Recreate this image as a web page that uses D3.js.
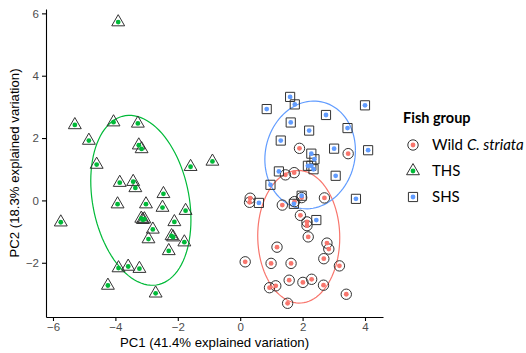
<!DOCTYPE html>
<html>
<head>
<meta charset="utf-8">
<script src="https://cdn.jsdelivr.net/npm/d3@7"></script>
<style>
  body { margin: 0; background: #fff; }
  svg { display: block; }
  .axis path, .axis line { stroke: #000; stroke-width: 1.1; }
  .axis text { fill: #4d4d4d; font-family: "Liberation Sans", Arial, sans-serif; font-size: 11.5px; }
  .title { font-family: "Liberation Sans", Arial, sans-serif; font-size: 13.2px; fill: #000; }
  .legend text { font-family: Lato, "Open Sans", sans-serif; fill: #000; }
</style>
</head>
<body>
<div id="chart"></div>
<script>
// Scores: [PC1, PC2]
const wildPoints = [
  [1.90, 1.67], [3.46, 1.50], [1.45, 0.82], [1.73, 0.89], [0.32, 0.07], [0.30, -0.06],
  [1.97, 0.09], [2.70, 0.08], [1.35, -0.15], [1.74, -0.04], [1.93, -0.48], [2.14, -0.69],
  [2.14, -0.81], [2.18, -1.17], [2.78, -1.37], [2.84, -1.56], [1.18, -1.50], [0.16, -1.97],
  [0.99, -2.02], [1.63, -2.02], [2.68, -1.87], [3.18, -2.10], [1.57, -2.56], [2.01, -2.63],
  [2.29, -2.53], [2.67, -2.72], [1.14, -2.74], [0.94, -2.80], [3.40, -3.01], [1.52, -3.30]
];
const thsPoints = [
  [-3.91, 5.72], [-5.30, 2.42], [-4.06, 2.51], [-3.28, 2.47], [-4.85, 1.92], [-3.25, 1.77],
  [-3.16, 1.65], [-4.60, 1.15], [-1.59, 1.08], [-0.89, 1.25], [-3.86, 0.57], [-3.43, 0.60],
  [-3.36, 0.40], [-2.46, 0.21], [-3.93, -0.12], [-3.02, -0.12], [-2.49, -0.23], [-1.75, -0.33],
  [-5.75, -0.70], [-3.17, -0.58], [-3.12, -0.62], [-3.07, -0.60], [-2.11, -0.69], [-2.80, -0.93],
  [-2.94, -1.24], [-2.20, -1.14], [-2.15, -1.18], [-1.79, -1.34], [-2.29, -1.62], [-3.90, -2.17],
  [-3.59, -2.12], [-3.23, -2.19], [-4.24, -2.73], [-2.71, -2.98]
];
const shsPoints = [
  [1.60, 3.32], [1.75, 3.08], [0.85, 2.93], [4.00, 3.05], [2.75, 2.74], [1.62, 2.50],
  [2.21, 2.24], [3.44, 2.32], [1.30, 1.92], [3.01, 1.66], [4.10, 1.61], [2.28, 1.50],
  [2.38, 1.32], [2.17, 1.11], [2.28, 1.11], [2.35, 1.00], [1.24, 0.93], [3.06, 0.79],
  [0.97, 0.50], [1.97, 0.15], [0.60, -0.08], [1.72, -0.11], [3.71, 0.05], [2.44, -0.63]
];
const groupNames = ['Wild', 'THS', 'SHS'];
const groupColors = ['#F8766D', '#00BA38', '#619CFF'];
const xTicks = [-6, -4, -2, 0, 2, 4];
const yTicks = [-2, 0, 2, 4, 6];
const xTitle = 'PC1 (41.4% explained variation)';
const yTitle = 'PC2 (18.3% explained variation)';
const legendTitle = 'Fish group';
const ellipseProb = 0.68;

const W = 526, H = 353;
const panel = { left: 46, right: 383, top: 9, bottom: 317 };

const x = d3.scaleLinear().domain([-6.224, 4.577]).range([panel.left, panel.right]);
const y = d3.scaleLinear().domain([-3.74, 6.14]).range([panel.bottom, panel.top]);

const svg = d3.select('#chart').append('svg').attr('width', W).attr('height', H);

// normal-theory ellipse from the sample covariance (ggbiplot style)
function covEllipse(pts, prob) {
  const n = pts.length;
  const mx = d3.mean(pts, d => d[0]), my = d3.mean(pts, d => d[1]);
  let a = 0, b = 0, c = 0;
  pts.forEach(p => {
    const dx = p[0] - mx, dy = p[1] - my;
    a += dx * dx; b += dx * dy; c += dy * dy;
  });
  a /= n - 1; b /= n - 1; c /= n - 1;
  const r11 = Math.sqrt(a), r12 = b / r11, r22 = Math.sqrt(c - r12 * r12);
  const ed = Math.sqrt(-2 * Math.log(1 - prob));
  return d3.range(0, 101).map(k => {
    const t = k / 100 * 2 * Math.PI;
    const u = Math.cos(t), v = Math.sin(t);
    return [mx + ed * u * r11, my + ed * (u * r12 + v * r22)];
  });
}

const groups = [wildPoints, thsPoints, shsPoints];
const line = d3.line().x(d => x(d[0])).y(d => y(d[1]));

groups.forEach((pts, gi) => {
  svg.append('path')
    .attr('d', line(covEllipse(pts, ellipseProb)))
    .attr('fill', 'none')
    .attr('stroke', groupColors[gi])
    .attr('stroke-width', 1.2);
});

// point shapes: hollow outline + small coloured dot
const shapes = [
  d3.symbol().type(d3.symbolCircle).size(Math.PI * 27),
  d3.symbol().type(d3.symbolTriangle).size(72),
  d3.symbol().type(d3.symbolSquare).size(84)
];

groups.forEach((pts, gi) => {
  const g = svg.append('g');
  g.selectAll('path.outline').data(pts).join('path')
    .attr('class', 'outline')
    .attr('transform', d => `translate(${x(d[0])},${y(d[1])})`)
    .attr('d', shapes[gi])
    .attr('fill', 'none')
    .attr('stroke', '#333')
    .attr('stroke-width', 1);
  g.selectAll('circle').data(pts).join('circle')
    .attr('cx', d => x(d[0])).attr('cy', d => y(d[1]))
    .attr('r', 2.4)
    .attr('fill', groupColors[gi]);
});

// axes
svg.append('g').attr('class', 'axis')
  .attr('transform', `translate(0,${panel.bottom})`)
  .call(d3.axisBottom(x).tickValues(xTicks).tickSize(4).tickPadding(2).tickSizeOuter(0));
svg.append('g').attr('class', 'axis')
  .attr('transform', `translate(${panel.left},0)`)
  .call(d3.axisLeft(y).tickValues(yTicks).tickSize(4).tickPadding(3).tickSizeOuter(0));

svg.append('text').attr('class', 'title')
  .attr('x', (panel.left + panel.right) / 2).attr('y', 347)
  .attr('text-anchor', 'middle').text(xTitle);
svg.append('text').attr('class', 'title')
  .attr('transform', `translate(19,${(panel.top + panel.bottom) / 2}) rotate(-90)`)
  .attr('text-anchor', 'middle').text(yTitle);

// legend
const legend = svg.append('g').attr('class', 'legend');
legend.append('text').attr('x', 403).attr('y', 123)
  .attr('font-size', 14.5).attr('font-weight', 'bold').text(legendTitle);
const keyY = [145, 171, 197];
groupNames.forEach((name, gi) => {
  legend.append('path')
    .attr('transform', `translate(413,${keyY[gi]})`)
    .attr('d', shapes[gi])
    .attr('fill', 'none').attr('stroke', '#333').attr('stroke-width', 1);
  legend.append('circle').attr('cx', 413).attr('cy', keyY[gi]).attr('r', 2.4)
    .attr('fill', groupColors[gi]);
  const t = legend.append('text').attr('x', 432).attr('y', keyY[gi] + 5).attr('font-size', 15);
  if (name === 'Wild') {
    t.append('tspan').text('Wild ');
    t.append('tspan').attr('font-style', 'italic').text('C. striata');
  } else {
    t.text(name);
  }
});
</script>
</body>
</html>
